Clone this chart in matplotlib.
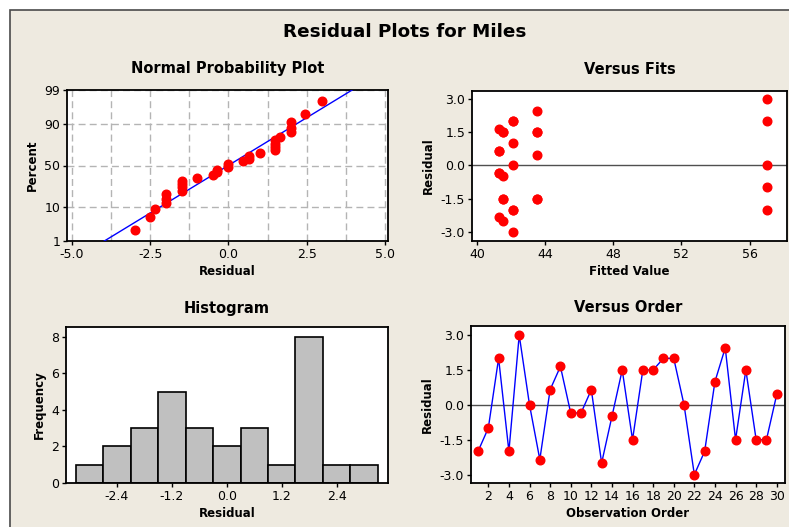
import math
import numpy as np
import matplotlib
matplotlib.use("Agg")
import matplotlib.pyplot as plt
from matplotlib.patches import Rectangle
from matplotlib.ticker import MultipleLocator, FormatStrFormatter

plt.rcParams['font.family'] = ['DejaVu Sans']
plt.rcParams['axes.unicode_minus'] = False

# residuals in observation order, and the fitted value of each observation
order = np.arange(1, 31)
residuals = np.array([-2.0, -1.0, 2.0, -2.0, 3.0, 0.0, -2.35, 0.65, 1.65, -0.35,
                      -0.35, 0.65, -2.5, -0.5, 1.5, -1.5, 1.5, 1.5, 2.0, 2.0,
                      0.0, -3.0, -2.0, 1.0, 2.45, -1.5, 1.5, -1.5, -1.5, 0.45])
fitted = np.array([57.0, 57.0, 57.0, 42.1, 57.0, 57.0, 41.3, 41.3, 41.3, 41.3,
                   41.3, 41.3, 41.5, 41.5, 41.5, 41.5, 43.5, 41.5, 42.1, 42.1,
                   42.1, 42.1, 42.1, 42.1, 43.5, 43.5, 43.5, 43.5, 41.5, 43.5])
hist_edges = [-3.3, -2.7, -2.1, -1.5, -0.9, -0.3, 0.3, 0.9, 1.5, 2.1, 2.7, 3.3]
pct_ticks = [1, 10, 50, 90, 99]


# normal quantile (Acklam) and cdf for the probability scale
def norm_ppf(p):
    p = np.clip(np.asarray(p, dtype=float), 1e-9, 1 - 1e-9)
    a = [-3.969683028665376e+01, 2.209460984245205e+02, -2.759285104469687e+02,
         1.383577518672690e+02, -3.066479806614716e+01, 2.506628277459239e+00]
    b = [-5.447609879822406e+01, 1.615858368580409e+02, -1.556989798598866e+02,
         6.680131188771972e+01, -1.328068155288572e+01]
    c = [-7.784894002430293e-03, -3.223964580411365e-01, -2.400758277161838e+00,
         -2.549732539343734e+00, 4.374664141464968e+00, 2.938163982698783e+00]
    d = [7.784695709041462e-03, 3.224671290700398e-01, 2.445134137142996e+00,
         3.754408661907416e+00]
    plow = 0.02425
    out = np.empty_like(p)
    lo = p < plow
    hi = p > 1 - plow
    mid = ~(lo | hi)
    q = np.sqrt(-2 * np.log(p[lo]))
    out[lo] = (((((c[0]*q+c[1])*q+c[2])*q+c[3])*q+c[4])*q+c[5]) / ((((d[0]*q+d[1])*q+d[2])*q+d[3])*q+1)
    q = np.sqrt(-2 * np.log(1 - p[hi]))
    out[hi] = -(((((c[0]*q+c[1])*q+c[2])*q+c[3])*q+c[4])*q+c[5]) / ((((d[0]*q+d[1])*q+d[2])*q+d[3])*q+1)
    q = p[mid] - 0.5
    r = q * q
    out[mid] = (((((a[0]*r+a[1])*r+a[2])*r+a[3])*r+a[4])*r+a[5])*q / (((((b[0]*r+b[1])*r+b[2])*r+b[3])*r+b[4])*r+1)
    return out


_erf = np.vectorize(math.erf)


def pct_fwd(v):
    return norm_ppf(np.asarray(v, dtype=float) / 100.0)


def pct_inv(z):
    return 50.0 * (1 + _erf(np.asarray(z, dtype=float) / math.sqrt(2)))


W, H = 789, 527
fig = plt.figure(figsize=(W / 100, H / 100), dpi=100)
fig.patch.set_facecolor('white')
fig.add_artist(Rectangle((10 / W, -0.01), 1.02, 1 - 10 / H + 0.01, transform=fig.transFigure,
                         facecolor='#EEEAE0', edgecolor='#4a4a4a', lw=1.2, zorder=0))

fig.text(405 / W, 1 - 32 / H, 'Residual Plots for Miles', ha='center', va='center',
         fontsize=13.2, fontweight='bold')

red = '#FF0000'
blue = '#0000FF'
tick_fs = 9
lab_fs = 8.5
title_fs = 10.5


def style(ax):
    ax.set_facecolor('white')
    for s in ax.spines.values():
        s.set_linewidth(1.3)
        s.set_color('black')
    ax.tick_params(direction='out', length=3, width=1, labelsize=tick_fs, pad=2)
    ax.tick_params(which='minor', length=0)


# Normal probability plot
ax1 = fig.add_axes([67 / W, 1 - 241 / H, 321 / W, 151 / H])
style(ax1)
ax1.set_yscale('function', functions=(pct_fwd, pct_inv))
n = len(residuals)
srt = np.sort(residuals)
pct = (np.arange(1, n + 1) - 0.3) / (n + 0.4) * 100
mu, sd = residuals.mean(), residuals.std(ddof=1)
line_p = np.linspace(0.5, 99.5, 200)
ax1.plot(mu + sd * norm_ppf(line_p / 100), line_p, color=blue, lw=1, zorder=3)
ax1.plot(srt, pct, 'o', color=red, ms=6.2, zorder=4)
ax1.set_xlim(-5.16, 5.1)
ax1.set_ylim(1, 99)
ax1.set_yticks(pct_ticks)
ax1.set_yticklabels([str(t) for t in pct_ticks])
ax1.set_xticks([-5.0, -2.5, 0.0, 2.5, 5.0])
ax1.xaxis.set_major_formatter(FormatStrFormatter('%.1f'))
ax1.xaxis.set_minor_locator(MultipleLocator(1.25))
ax1.yaxis.set_minor_locator(matplotlib.ticker.NullLocator())
ax1.grid(True, which='both', axis='x', color='#B4B4B4', ls=(0, (5, 3)), lw=1)
ax1.grid(True, which='major', axis='y', color='#B4B4B4', ls=(0, (5, 3)), lw=1)
ax1.set_axisbelow(True)
ax1.set_xlabel('Residual', fontsize=lab_fs, fontweight='bold', labelpad=3)
ax1.set_ylabel('Percent', fontsize=lab_fs, fontweight='bold', labelpad=4)
ax1.set_title('Normal Probability Plot', fontsize=title_fs, fontweight='bold', pad=12)

# Versus fits
ax2 = fig.add_axes([472 / W, 1 - 241 / H, 315 / W, 150 / H])
style(ax2)
ax2.axhline(0, color='#505050', lw=1, zorder=1)
ax2.plot(fitted, residuals, 'o', color=red, ms=6.2, zorder=3)
ax2.set_xlim(39.7, 58.2)
ax2.set_ylim(-3.42, 3.36)
ax2.set_xticks([40, 44, 48, 52, 56])
ax2.set_yticks([-3.0, -1.5, 0.0, 1.5, 3.0])
ax2.yaxis.set_major_formatter(FormatStrFormatter('%.1f'))
ax2.set_xlabel('Fitted Value', fontsize=lab_fs, fontweight='bold', labelpad=3)
ax2.set_ylabel('Residual', fontsize=lab_fs, fontweight='bold', labelpad=4)
ax2.set_title('Versus Fits', fontsize=title_fs, fontweight='bold', pad=12)

# Histogram
ax3 = fig.add_axes([66 / W, 1 - 483 / H, 322 / W, 156 / H])
style(ax3)
ax3.hist(residuals, bins=hist_edges, color='#C0C0C0', edgecolor='black', lw=1.2)
ax3.set_xlim(-3.51, 3.52)
ax3.set_ylim(0, 8.53)
ax3.set_xticks([-2.4, -1.2, 0.0, 1.2, 2.4])
ax3.xaxis.set_major_formatter(FormatStrFormatter('%.1f'))
ax3.set_yticks([0, 2, 4, 6, 8])
ax3.set_xlabel('Residual', fontsize=lab_fs, fontweight='bold', labelpad=3)
ax3.set_ylabel('Frequency', fontsize=lab_fs, fontweight='bold', labelpad=4)
ax3.set_title('Histogram', fontsize=title_fs, fontweight='bold', pad=10)

# Versus order
ax4 = fig.add_axes([471 / W, 1 - 483 / H, 314 / W, 157 / H])
style(ax4)
ax4.axhline(0, color='#505050', lw=1, zorder=1)
ax4.plot(order, residuals, '-', color=blue, lw=1, zorder=2)
ax4.plot(order, residuals, 'o', color=red, ms=6.2, zorder=3)
ax4.set_xlim(0.32, 30.8)
ax4.set_ylim(-3.36, 3.39)
ax4.set_xticks(np.arange(2, 31, 2))
ax4.set_yticks([-3.0, -1.5, 0.0, 1.5, 3.0])
ax4.yaxis.set_major_formatter(FormatStrFormatter('%.1f'))
ax4.set_xlabel('Observation Order', fontsize=lab_fs, fontweight='bold', labelpad=3)
ax4.set_ylabel('Residual', fontsize=lab_fs, fontweight='bold', labelpad=4)
ax4.set_title('Versus Order', fontsize=title_fs, fontweight='bold', pad=10)

fig.savefig('out.png', dpi=100, facecolor=fig.get_facecolor())
